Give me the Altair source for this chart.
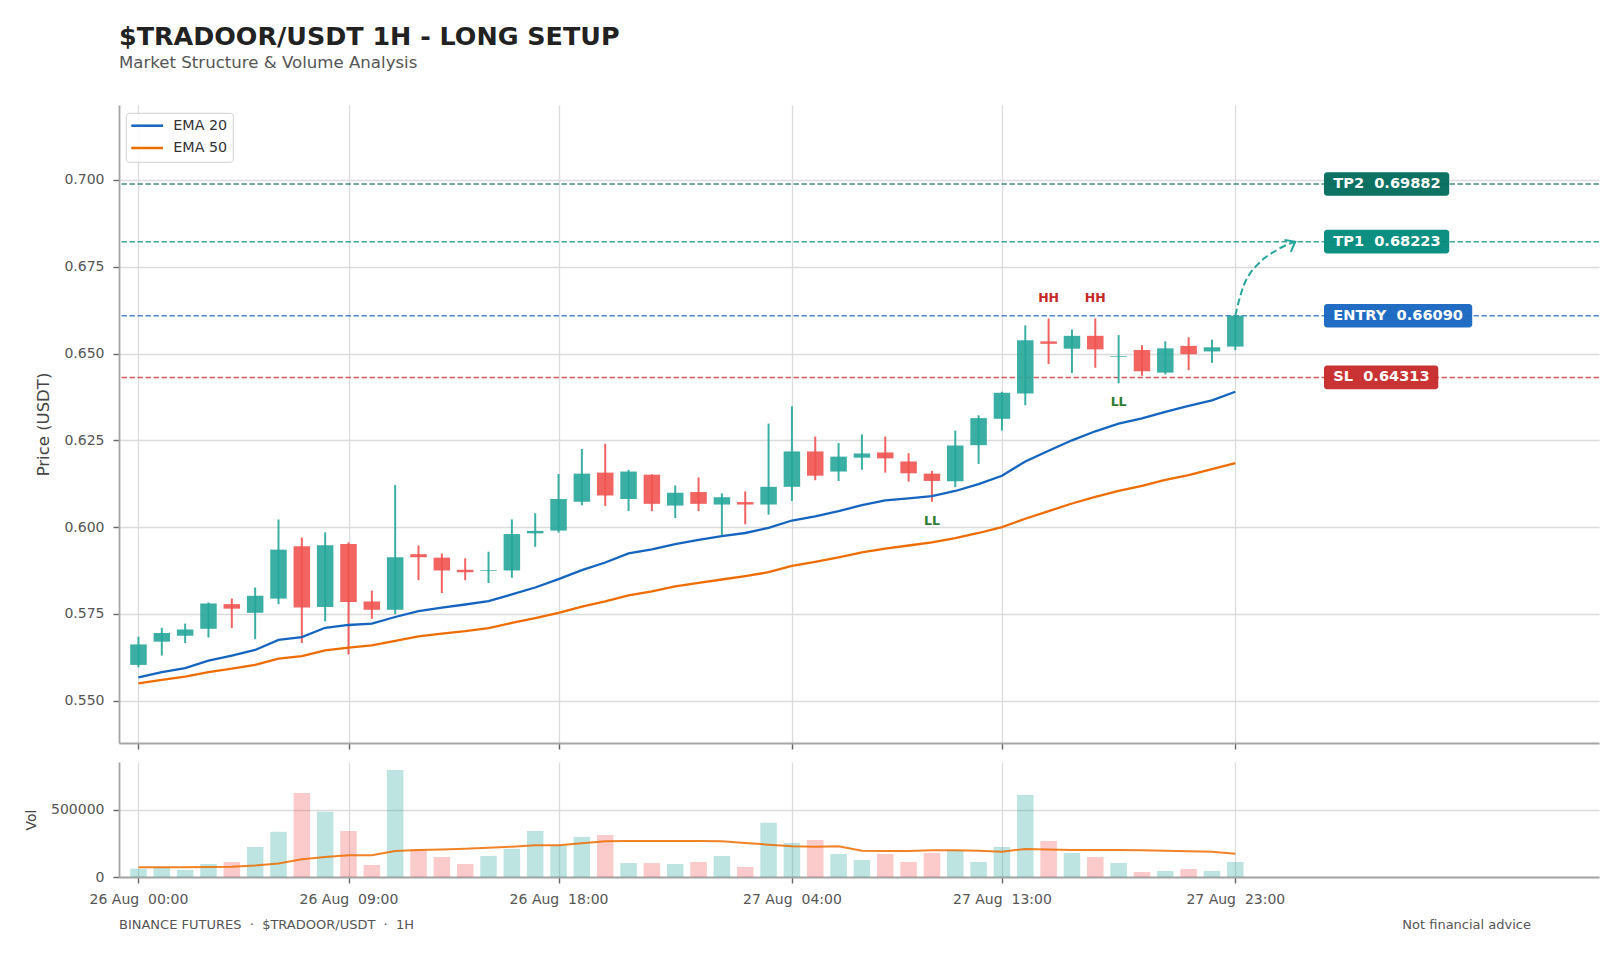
import altair as alt
import pandas as pd

# ---------------- data ----------------
opens = [0.5603, 0.5670, 0.5687, 0.5707, 0.5778, 0.5753, 0.5794, 0.5945, 0.5770, 0.5951,
         0.5786, 0.5762, 0.5922, 0.5912, 0.5877, 0.5874, 0.5875, 0.5982, 0.5990, 0.6073,
         0.6157, 0.6081, 0.6151, 0.6062, 0.6101, 0.6065, 0.6072, 0.6065, 0.6116, 0.6218,
         0.6160, 0.6200, 0.6215, 0.6189, 0.6154, 0.6132, 0.6236, 0.6312, 0.6385, 0.6535,
         0.6514, 0.6551, 0.6490, 0.6510, 0.6445, 0.6522, 0.6506, 0.6520]
highs = [0.5684, 0.5710, 0.5722, 0.5783, 0.5794, 0.5826, 0.6022, 0.5970, 0.5985, 0.5956,
         0.5817, 0.6121, 0.5947, 0.5924, 0.5910, 0.5929, 0.6022, 0.6040, 0.6153, 0.6225,
         0.6240, 0.6165, 0.6152, 0.6120, 0.6143, 0.6097, 0.6103, 0.6298, 0.6348, 0.6261,
         0.6242, 0.6267, 0.6261, 0.6213, 0.6162, 0.6278, 0.6322, 0.6390, 0.6581, 0.6601,
         0.6569, 0.6601, 0.6553, 0.6524, 0.6535, 0.6547, 0.6540, 0.6609]
lows = [0.5596, 0.5630, 0.5666, 0.5682, 0.5709, 0.5677, 0.5778, 0.5666, 0.5728, 0.5633,
        0.5736, 0.5749, 0.5847, 0.5810, 0.5847, 0.5839, 0.5854, 0.5943, 0.5984, 0.6063,
        0.6061, 0.6046, 0.6046, 0.6026, 0.6046, 0.5973, 0.6008, 0.6036, 0.6075, 0.6135,
        0.6133, 0.6165, 0.6157, 0.6131, 0.6073, 0.6115, 0.6182, 0.6278, 0.6351, 0.6470,
        0.6444, 0.6459, 0.6414, 0.6436, 0.6440, 0.6452, 0.6473, 0.6510]
closes = [0.5662, 0.5695, 0.5705, 0.5780, 0.5765, 0.5802, 0.5935, 0.5768, 0.5948, 0.5784,
          0.5762, 0.5913, 0.5913, 0.5875, 0.5870, 0.5876, 0.5980, 0.5989, 0.6081, 0.6154,
          0.6091, 0.6160, 0.6067, 0.6099, 0.6067, 0.6086, 0.6065, 0.6116, 0.6218, 0.6148,
          0.6203, 0.6212, 0.6198, 0.6155, 0.6133, 0.6235, 0.6314, 0.6387, 0.6538, 0.6528,
          0.6551, 0.6512, 0.6492, 0.6449, 0.6515, 0.6498, 0.6518, 0.6609]
volumes = [62000, 75000, 53000, 97000, 112000, 224000, 337000, 627000, 486000, 343000,
           90000, 798000, 205000, 149000, 97000, 157000, 211000, 343000, 236000, 299000,
           313000, 104000, 104000, 97000, 112000, 157000, 75000, 405000, 254000, 276000,
           172000, 127000, 172000, 112000, 179000, 201000, 112000, 224000, 612000, 269000,
           179000, 149000, 104000, 37000, 45000, 60000, 45000, 112000]
vol_ma = [72000, 72000, 72000, 74000, 77000, 85000, 100000, 132000, 149000, 162000,
          162000, 194000, 201000, 206000, 211000, 219000, 226000, 236000, 236000, 251000,
          266000, 269000, 269000, 269000, 269000, 266000, 254000, 241000, 229000, 226000,
          229000, 196000, 194000, 194000, 199000, 199000, 196000, 189000, 209000, 206000,
          201000, 201000, 201000, 199000, 196000, 192000, 189000, 174000]
ema20 = [0.5567, 0.5582, 0.5594, 0.5615, 0.5630, 0.5646, 0.5675, 0.5683, 0.5710, 0.5718,
         0.5722, 0.5741, 0.5758, 0.5768, 0.5777, 0.5787, 0.5806, 0.5826, 0.5850, 0.5876,
         0.5898, 0.5924, 0.5936, 0.5951, 0.5963, 0.5974, 0.5983, 0.5998, 0.6019, 0.6031,
         0.6046, 0.6063, 0.6077, 0.6083, 0.6089, 0.6104, 0.6124, 0.6148, 0.6189, 0.6220,
         0.6250, 0.6276, 0.6298, 0.6313, 0.6332, 0.6349, 0.6365, 0.6390]
ema50 = [0.5550, 0.5560, 0.5569, 0.5582, 0.5592, 0.5603, 0.5621, 0.5628, 0.5645, 0.5653,
         0.5659, 0.5672, 0.5685, 0.5693, 0.5700, 0.5709, 0.5724, 0.5738, 0.5753, 0.5771,
         0.5786, 0.5803, 0.5815, 0.5829, 0.5839, 0.5849, 0.5859, 0.5870, 0.5888, 0.5900,
         0.5913, 0.5927, 0.5938, 0.5947, 0.5956, 0.5968, 0.5983, 0.6000, 0.6024, 0.6046,
         0.6068, 0.6087, 0.6104, 0.6119, 0.6136, 0.6150, 0.6167, 0.6184]

tick_idx = [0, 9, 18, 28, 37, 47]
tick_labels = ["26 Aug  00:00", "26 Aug  09:00", "26 Aug  18:00",
               "27 Aug  04:00", "27 Aug  13:00", "27 Aug  23:00"]
price_ticks = [0.550, 0.575, 0.600, 0.625, 0.650, 0.675, 0.700]

level_names = ["TP2", "TP1", "ENTRY", "SL"]
level_values = [0.69882, 0.68223, 0.66090, 0.64313]
level_colors = ["#00695c", "#00897b", "#1565c0", "#c62828"]

legend_labels = ["EMA 20", "EMA 50"]
legend_colors = ["#1565c0", "#ef6c00"]

hh_idx = [39, 41]
ll_idx = [34, 42]

arrow_x = [47.0, 47.14, 47.36, 47.62, 47.92, 48.25, 48.63, 49.2, 49.57]
arrow_y = [0.6609, 0.6648, 0.6696, 0.6730, 0.6754, 0.6775, 0.6792, 0.6813, 0.6822]

# ---------------- layout constants ----------------
W = 1480
HP = 638
HV = 115
XDOM = [-0.62, 62.37]
YDOM = [0.5378, 0.7216]
VDOM = [0, 858000]
PXX = W / (XDOM[1] - XDOM[0])
PXY = HP / (YDOM[1] - YDOM[0])

UP = "#26a69a"
DOWN = "#ef5350"
FONT = "DejaVu Sans"
NB = "\u00a0"

# ---------------- tables ----------------
n = len(opens)
cdf = pd.DataFrame({
    "idx": list(range(n)), "open": opens, "high": highs, "low": lows, "close": closes,
    "vol": volumes, "vma": vol_ma,
})
cdf["col"] = [UP if c >= o else DOWN for o, c in zip(opens, closes)]

ema_df = pd.DataFrame({
    "idx": list(range(n)) * 2,
    "value": ema20 + ema50,
    "series": ["EMA 20"] * n + ["EMA 50"] * n,
})

bold_w = {"T": .682, "P": .733, "E": .683, "N": .837, "R": .770, "Y": .724, "S": .720,
          "L": .637, ".": .380, " ": .348, NB: .348}
LBL_FS = 14.6
LBL_PAD = 9.3
LBL_X0 = 50.8
LBL_H = 23.6
rows = []
for nm, v, c in zip(level_names, level_values, level_colors):
    txt = f"{nm}{NB}{NB}{v:.5f}"
    tw = sum(bold_w.get(ch, .696) for ch in txt) * LBL_FS
    rows.append({
        "name": nm, "value": v, "color": c, "text": txt,
        "x0": LBL_X0, "x1": LBL_X0 + (tw + 2 * LBL_PAD) / PXX,
        "tx": LBL_X0 + LBL_PAD / PXX,
        "y0": v - LBL_H / 2 / PXY, "y1": v + LBL_H / 2 / PXY,
    })
lv = pd.DataFrame(rows)

hh_df = pd.DataFrame({"idx": hh_idx, "y": [highs[i] for i in hh_idx], "t": ["HH"] * len(hh_idx)})
ll_df = pd.DataFrame({"idx": ll_idx, "y": [lows[i] for i in ll_idx], "t": ["LL"] * len(ll_idx)})
arrow_df = pd.DataFrame({"idx": arrow_x, "y": arrow_y})
head_df = arrow_df.tail(1)
one = pd.DataFrame({"k": [0]})

# ---------------- encodings ----------------
xs = alt.Scale(domain=XDOM, nice=False, zero=False)
ys = alt.Scale(domain=YDOM, nice=False, zero=False)
x_axis_p = alt.Axis(values=tick_idx, labels=False, title=None, grid=True, ticks=True)
y_axis_p = alt.Axis(values=price_ticks, format=".3f", title="Price (USDT)", grid=True,
                    titleFontSize=16.5)


def PX(field="idx"):
    return alt.X(f"{field}:Q", scale=xs, axis=x_axis_p)


def PY(field):
    return alt.Y(f"{field}:Q", scale=ys, axis=y_axis_p)


level_lines = alt.Chart(lv).mark_rule(strokeDash=[5.5, 2.5], strokeWidth=1.5, opacity=0.75).encode(
    y=PY("value"), color=alt.Color("color:N", scale=None))

wicks = alt.Chart(cdf).mark_rule(strokeWidth=2, opacity=0.9).encode(
    x=PX(), y=PY("low"), y2="high", color=alt.Color("col:N", scale=None))

bodies = alt.Chart(cdf).mark_bar(size=16.5, opacity=0.9).encode(
    x=PX(), y=PY("open"), y2="close", color=alt.Color("col:N", scale=None))

emas = alt.Chart(ema_df).mark_line(strokeWidth=2.3).encode(
    x=PX(), y=PY("value"),
    color=alt.Color("series:N",
                    scale=alt.Scale(domain=legend_labels, range=legend_colors),
                    legend=None))

boxes = alt.Chart(lv).mark_rect(cornerRadius=3, opacity=0.95).encode(
    x=PX("x0"), x2="x1", y=PY("y0"), y2="y1", color=alt.Color("color:N", scale=None))

box_text = alt.Chart(lv).mark_text(align="left", baseline="middle", color="white",
                                   fontWeight="bold", fontSize=LBL_FS, font=FONT).encode(
    x=PX("tx"), y=PY("value"), text="text:N")

hh_text = alt.Chart(hh_df).mark_text(fontWeight="bold", fontSize=12.5, color="#c62828",
                                     baseline="middle", yOffset=-20, font=FONT).encode(
    x=PX(), y=PY("y"), text="t:N")
ll_text = alt.Chart(ll_df).mark_text(fontWeight="bold", fontSize=12.5, color="#2e7d32",
                                     baseline="middle", yOffset=19, font=FONT).encode(
    x=PX(), y=PY("y"), text="t:N")

arrow = alt.Chart(arrow_df).mark_line(strokeDash=[7, 3.5], strokeWidth=2, color=UP,
                                      interpolate="monotone").encode(x=PX(), y=PY("y"))
head = alt.Chart(head_df).mark_point(shape="M -1 -0.78 L 0 0 L -1 0.78", filled=False, size=300,
                                     strokeWidth=2, color=UP, angle=332, opacity=1).encode(
    x=PX(), y=PY("y"))

# hand-drawn legend box (matplotlib style, upper-left)
leg_layers = [
    alt.Chart(one).mark_rect(fill="white", stroke="#cccccc", strokeWidth=1, cornerRadius=3,
                             opacity=0.9).encode(
        x=alt.value(7.3), x2=alt.value(114.3), y=alt.value(8.3), y2=alt.value(57.3))
]
for i, (lab, col) in enumerate(zip(legend_labels, legend_colors)):
    yy = 20.7 + i * 22.3
    leg_layers.append(alt.Chart(one).mark_rule(color=col, strokeWidth=2.5).encode(
        x=alt.value(12.3), x2=alt.value(44), y=alt.value(yy)))
    leg_layers.append(alt.Chart(pd.DataFrame({"t": [lab]})).mark_text(
        align="left", baseline="middle", fontSize=14.3, color="#333333", font=FONT).encode(
        x=alt.value(54.3), y=alt.value(yy), text="t:N"))

price = alt.layer(level_lines, wicks, bodies, emas, boxes, box_text, hh_text, ll_text,
                  arrow, head, *leg_layers).properties(
    width=W, height=HP,
    title=alt.TitleParams(
        text="$TRADOOR/USDT 1H - LONG SETUP",
        subtitle="Market Structure & Volume Analysis",
        anchor="start", frame="group", font=FONT, fontSize=25.4, fontWeight="bold",
        color="#222222", subtitleFont=FONT, subtitleFontSize=16.6, subtitleColor="#555555",
        subtitlePadding=4.7, offset=33))

# ---------------- volume panel ----------------
parts = [f"datum.value == {v} ? '{lab.replace(' ', NB)}'" for v, lab in zip(tick_idx, tick_labels)]
label_expr = " : ".join(parts) + " : ''"

vxs = alt.Scale(domain=XDOM, nice=False, zero=False)
vys = alt.Scale(domain=VDOM, nice=False)
x_axis_v = alt.Axis(values=tick_idx, labelExpr=label_expr, title=None, grid=True, labelPadding=9)
y_axis_v = alt.Axis(values=[0, 500000], format="d", title="Vol", grid=True, titleFontSize=14)

vbars = alt.Chart(cdf).mark_bar(size=16.5, opacity=0.3).encode(
    x=alt.X("idx:Q", scale=vxs, axis=x_axis_v),
    y=alt.Y("vol:Q", scale=vys, axis=y_axis_v),
    color=alt.Color("col:N", scale=None))
vline = alt.Chart(cdf).mark_line(strokeWidth=2, color="#ef6c00", opacity=0.85).encode(
    x=alt.X("idx:Q", scale=vxs, axis=x_axis_v),
    y=alt.Y("vma:Q", scale=vys, axis=y_axis_v))

foot_df = pd.DataFrame({"t": [f"BINANCE FUTURES{NB}{NB}·{NB}{NB}$TRADOOR/USDT{NB}{NB}·{NB}{NB}1H"]})
foot_l = alt.Chart(foot_df).mark_text(align="left", baseline="middle", fontSize=13,
                                      color="#555555", font=FONT).encode(
    x=alt.value(0), y=alt.value(HV + 48), text="t:N")
foot_r_df = pd.DataFrame({"t": ["Not financial advice"]})
foot_r = alt.Chart(foot_r_df).mark_text(align="right", baseline="middle", fontSize=13,
                                        color="#555555", font=FONT).encode(
    x=alt.value(1412), y=alt.value(HV + 48), text="t:N")

vol = alt.layer(vbars, vline, foot_l, foot_r).properties(width=W, height=HV)

chart = alt.vconcat(price, vol, spacing=12).properties(
    padding={"left": 16, "top": 17, "right": 10, "bottom": 6},
    background="white",
).configure(font=FONT).configure_view(stroke=None).configure_axis(
    domainColor="#a6a6a6", domainWidth=1.8, tickColor="#666666", tickWidth=1.4, tickSize=6,
    labelColor="#555555", labelFontSize=14, labelPadding=9, labelFont=FONT,
    titleColor="#444444", titleFontSize=15, titleFontWeight="normal", titlePadding=12,
    titleFont=FONT, gridColor="#dcdcdc", gridWidth=1.3,
)

chart.save("out.html", embed_options={"renderer": "svg", "actions": False})
